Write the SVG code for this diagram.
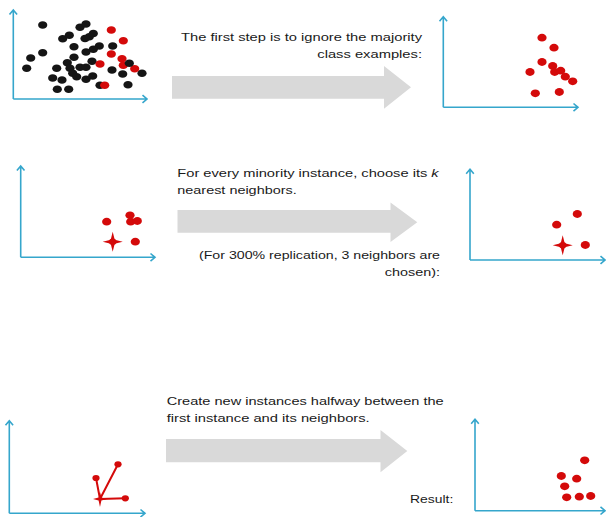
<svg xmlns="http://www.w3.org/2000/svg" width="606" height="517" viewBox="0 0 606 517">
<defs>
<style>
.ax{fill:none;stroke:#35a6cc;stroke-width:1.6;stroke-linejoin:miter}
.k{fill:#151515}
.r{fill:#d40a0a}
.rl{stroke:#d40a0a;stroke-width:2;fill:none;stroke-linecap:round}
.t{font-family:"Liberation Sans",Arial,sans-serif;font-size:10.8px;fill:#1a1a1a}
.ga{fill:#d9d9d9}
.k ellipse,.r ellipse.d{}
</style>
</defs>
<rect width="606" height="517" fill="#fff"/>

<g id="connectors">
<polygon class="ga" points="172,76 384,76 384,66 411,87.3 384,108.7 384,98.7 172,98.7"/>
<polygon class="ga" points="177.5,210 390.5,210 390.5,202.5 417.3,222.3 390.5,242 390.5,232.7 177.5,232.7"/>
<polygon class="ga" points="166,439 380.5,439 380.5,430 407.3,451 380.5,472.3 380.5,462.3 166,462.3"/>
</g>

<g id="plot1">
<path class="ax" d="M13.3,99 V10 M9.5,14.5 L13.3,10 L17.1,14.5 M13.3,99 H147 M142.5,95.2 L147,99 L142.5,102.8"/>
<g class="k">
<ellipse cx="42.7" cy="25" rx="4.6" ry="3.8"/><ellipse cx="80" cy="27.3" rx="4.6" ry="3.8"/><ellipse cx="86" cy="24" rx="4.6" ry="3.8"/>
<ellipse cx="62.7" cy="38.7" rx="4.6" ry="3.8"/><ellipse cx="69.3" cy="35.3" rx="4.6" ry="3.8"/><ellipse cx="89.3" cy="36.7" rx="4.6" ry="3.8"/>
<ellipse cx="93.3" cy="33.5" rx="4.6" ry="3.8"/><ellipse cx="85" cy="38.5" rx="4.6" ry="3.8"/><ellipse cx="74" cy="46.7" rx="4.6" ry="3.8"/>
<ellipse cx="99.3" cy="46" rx="4.6" ry="3.8"/><ellipse cx="93.3" cy="49.3" rx="4.6" ry="3.8"/><ellipse cx="86" cy="52" rx="4.6" ry="3.8"/>
<ellipse cx="42.7" cy="52.7" rx="4.6" ry="3.8"/><ellipse cx="30.7" cy="58" rx="4.6" ry="3.8"/><ellipse cx="74" cy="57.3" rx="4.6" ry="3.8"/>
<ellipse cx="112.7" cy="46" rx="4.6" ry="3.8"/><ellipse cx="67.3" cy="62.7" rx="4.6" ry="3.8"/><ellipse cx="92" cy="61.3" rx="4.6" ry="3.8"/>
<ellipse cx="26.7" cy="68.3" rx="4.6" ry="3.8"/><ellipse cx="56.7" cy="68.3" rx="4.6" ry="3.8"/><ellipse cx="70" cy="68.3" rx="4.6" ry="3.8"/>
<ellipse cx="80" cy="67.3" rx="4.6" ry="3.8"/><ellipse cx="86" cy="67.3" rx="4.6" ry="3.8"/><ellipse cx="112" cy="70" rx="4.6" ry="3.8"/>
<ellipse cx="72.7" cy="73.3" rx="4.6" ry="3.8"/><ellipse cx="76.7" cy="76.7" rx="4.6" ry="3.8"/><ellipse cx="52.7" cy="78" rx="4.6" ry="3.8"/>
<ellipse cx="62" cy="80" rx="4.6" ry="3.8"/><ellipse cx="86" cy="79.3" rx="4.6" ry="3.8"/><ellipse cx="92.7" cy="76" rx="4.6" ry="3.8"/>
<ellipse cx="100" cy="85.3" rx="4.6" ry="3.8"/><ellipse cx="122.7" cy="74" rx="4.6" ry="3.8"/>
<ellipse cx="142" cy="73.3" rx="4.6" ry="3.8"/><ellipse cx="128" cy="84.7" rx="4.6" ry="3.8"/><ellipse cx="57.3" cy="89.3" rx="4.6" ry="3.8"/>
<ellipse cx="68.7" cy="89.3" rx="4.6" ry="3.8"/>
</g>
<g class="r">
<ellipse cx="111.3" cy="30" rx="4.6" ry="3.8"/><ellipse cx="123.3" cy="40.7" rx="4.6" ry="3.8"/><ellipse cx="111.3" cy="54" rx="4.6" ry="3.8"/>
<ellipse cx="122" cy="58.7" rx="4.6" ry="3.8"/><ellipse cx="100" cy="64" rx="4.6" ry="3.8"/><ellipse cx="123.3" cy="65.3" rx="4.6" ry="3.8"/>
<ellipse cx="134.7" cy="68.7" rx="4.6" ry="3.8"/><ellipse cx="104.7" cy="85.3" rx="4.6" ry="3.8"/>
</g>
<ellipse class="k" cx="129.3" cy="63.3" rx="4.6" ry="3.8"/>
</g>

<g id="plot2">
<path class="ax" d="M443.3,107.3 V16.7 M439.5,21.2 L443.3,16.7 L447.1,21.2 M443.3,107.3 H578 M573.5,103.5 L578,107.3 L573.5,111.1"/>
<g class="r">
<ellipse cx="542" cy="37.7" rx="4.6" ry="3.9"/><ellipse cx="554" cy="47.7" rx="4.6" ry="3.9"/><ellipse cx="542" cy="62" rx="4.6" ry="3.9"/>
<ellipse cx="530" cy="72" rx="4.6" ry="3.9"/><ellipse cx="552.7" cy="66" rx="4.6" ry="3.9"/><ellipse cx="554.7" cy="72" rx="4.6" ry="3.9"/>
<ellipse cx="560.7" cy="70.7" rx="4.6" ry="3.9"/><ellipse cx="565.3" cy="76.7" rx="4.6" ry="3.9"/><ellipse cx="572.7" cy="81.3" rx="4.6" ry="3.9"/>
<ellipse cx="535.3" cy="93.3" rx="4.6" ry="3.9"/><ellipse cx="559.3" cy="92" rx="4.6" ry="3.9"/>
</g>
</g>

<g id="plot3">
<path class="ax" d="M20.7,257.3 V166 M16.9,170.5 L20.7,166 L24.5,170.5 M20.7,257.3 H155 M150.5,253.5 L155,257.3 L150.5,261.1"/>
<g class="r">
<ellipse cx="106.7" cy="221.7" rx="4.6" ry="3.9"/><ellipse cx="130" cy="215.3" rx="4.6" ry="3.9"/><ellipse cx="130.7" cy="221.7" rx="4.6" ry="3.9"/>
<ellipse cx="137.3" cy="221" rx="4.6" ry="3.9"/><ellipse cx="135.3" cy="241.7" rx="4.6" ry="3.9"/>
<path d="M112.7,231.7 L114.7,239.7 L122.7,241.7 L114.7,243.7 L112.7,251.7 L110.7,243.7 L102.7,241.7 L110.7,239.7 Z"/>
<ellipse cx="112.7" cy="241.7" rx="3.6" ry="3.2"/>
</g>
</g>

<g id="plot4">
<path class="ax" d="M470,260 V169.3 M466.2,173.8 L470,169.3 L473.8,173.8 M470,260 H605 M600.5,256.2 L605,260 L600.5,263.8"/>
<g class="r">
<ellipse cx="577.3" cy="214" rx="4.6" ry="3.9"/><ellipse cx="556.7" cy="224.7" rx="4.6" ry="3.9"/><ellipse cx="585.3" cy="245" rx="4.6" ry="3.9"/>
<path d="M562.7,235.3 L564.7,243.3 L572.7,245.3 L564.7,247.3 L562.7,255.3 L560.7,247.3 L552.7,245.3 L560.7,243.3 Z"/>
<ellipse cx="562.7" cy="245.3" rx="3.6" ry="3.2"/>
</g>
</g>

<g id="plot5">
<path class="ax" d="M9.3,513.3 V420.7 M5.5,425.2 L9.3,420.7 L13.1,425.2 M9.3,513.3 H145 M140.5,509.5 L145,513.3 L140.5,517.1"/>
<path class="rl" d="M100,499 L96,478 M100,499 L118,464.3 M100,499 L125.3,498.3"/>
<g class="r">
<ellipse cx="96" cy="478" rx="3.6" ry="3.1"/><ellipse cx="118" cy="464.3" rx="3.6" ry="3.1"/><ellipse cx="125.3" cy="498.3" rx="3.6" ry="3.1"/>
<path d="M100,492 L101.4,497.6 L107,499 L101.4,500.4 L100,507 L98.6,500.4 L93,499 L98.6,497.6 Z"/>
</g>
</g>

<g id="plot6">
<path class="ax" d="M475,510.7 V419.3 M471.2,423.8 L475,419.3 L478.8,423.8 M475,510.7 H605 M600.5,506.9 L605,510.7 L600.5,514.5"/>
<g class="r">
<ellipse cx="584.7" cy="460.3" rx="4.6" ry="3.9"/><ellipse cx="561.3" cy="476" rx="4.6" ry="3.9"/><ellipse cx="576.7" cy="478.7" rx="4.6" ry="3.9"/>
<ellipse cx="564.7" cy="486.3" rx="4.6" ry="3.9"/><ellipse cx="566.7" cy="497.3" rx="4.6" ry="3.9"/><ellipse cx="579.3" cy="496.7" rx="4.6" ry="3.9"/>
<ellipse cx="590.7" cy="496" rx="4.6" ry="3.9"/>
</g>
</g>

<g id="text1" class="t">
<text x="422" y="41" text-anchor="end" textLength="241" lengthAdjust="spacingAndGlyphs">The first step is to ignore the majority</text>
<text x="422" y="57.5" text-anchor="end" textLength="104.7" lengthAdjust="spacingAndGlyphs">class examples:</text>
</g>
<g id="text2" class="t">
<text x="177.3" y="177" textLength="261.4" lengthAdjust="spacingAndGlyphs">For every minority instance, choose its <tspan font-style="italic">k</tspan></text>
<text x="177.3" y="193.5" textLength="119.4" lengthAdjust="spacingAndGlyphs">nearest neighbors.</text>
</g>
<g id="text3" class="t">
<text x="440" y="259.3" text-anchor="end" textLength="241" lengthAdjust="spacingAndGlyphs">(For 300% replication, 3 neighbors are</text>
<text x="440" y="275.8" text-anchor="end" textLength="55.2" lengthAdjust="spacingAndGlyphs">chosen):</text>
</g>
<g id="text4" class="t">
<text x="166.7" y="404.5" textLength="277" lengthAdjust="spacingAndGlyphs">Create new instances halfway between the</text>
<text x="166.7" y="421.5" textLength="203" lengthAdjust="spacingAndGlyphs">first instance and its neighbors.</text>
</g>
<g id="text5" class="t">
<text x="453.3" y="503.3" text-anchor="end" textLength="43.3" lengthAdjust="spacingAndGlyphs">Result:</text>
</g>
</svg>
